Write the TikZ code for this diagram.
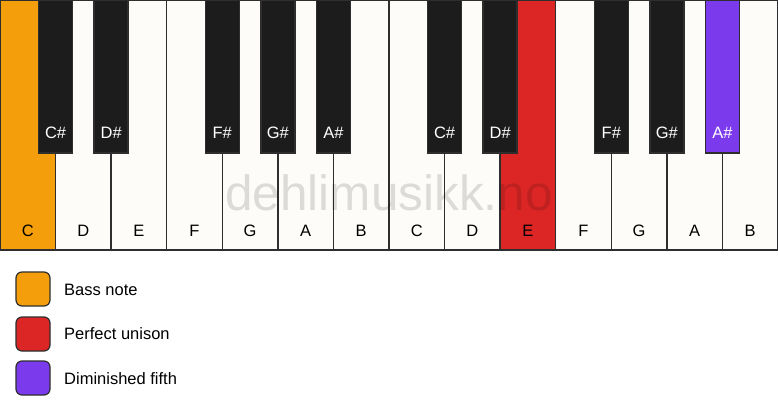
\documentclass[tikz,border=0pt]{standalone}
\usepackage{fontspec}
\setmainfont{Liberation Sans}
\definecolor{keywhite}{HTML}{FDFCF8}
\definecolor{keyblack}{HTML}{1C1C1C}
\definecolor{keyline}{HTML}{2E2E2E}
\definecolor{bassorange}{HTML}{F59E0B}
\definecolor{unisonred}{HTML}{DC2626}
\definecolor{dimpurple}{HTML}{7C3AED}
\tikzset{
  whitekey/.style={fill=keywhite,draw=keyline,line width=1.4pt},
  blackkey/.style={fill=keyblack,draw=keyline,line width=1.4pt},
  wlabel/.style={font=\fontsize{16.5}{16.5}\selectfont,text=black,inner sep=0pt},
  blabel/.style={font=\fontsize{16.5}{16.5}\selectfont,text=white,inner sep=0pt},
  legbox/.style={draw=keyline,line width=1.2pt,rounded corners=6pt,minimum size=34pt,inner sep=0pt},
  legtext/.style={font=\fontsize{16.5}{16.5}\selectfont,anchor=west,inner sep=0pt},
}
\begin{document}
\begin{tikzpicture}[x=1pt,y=-1pt]
\useasboundingbox[fill=white] (0,0) rectangle (778,417);
\def\W{55.5714}
% white keys
\foreach \i/\n/\c in {0/C/bassorange,1/D/keywhite,2/E/keywhite,3/F/keywhite,4/G/keywhite,5/A/keywhite,6/B/keywhite,7/C/keywhite,8/D/keywhite,9/E/unisonred,10/F/keywhite,11/G/keywhite,12/A/keywhite,13/B/keywhite}{
  \draw[whitekey,fill=\c] ({\i*\W},0) rectangle ({(\i+1)*\W},250);
  \node[wlabel] (w\i) at ({(\i+0.5)*\W},230.5) {\n};
}
% black keys
\foreach \i/\n/\c in {0/C\#/keyblack,1/D\#/keyblack,3/F\#/keyblack,4/G\#/keyblack,5/A\#/keyblack,7/C\#/keyblack,8/D\#/keyblack,10/F\#/keyblack,11/G\#/keyblack,12/A\#/dimpurple}{
  \draw[blackkey,fill=\c] ({(\i+1)*\W-17},0) rectangle ({(\i+1)*\W+17},153);
  \node[blabel] (b\i) at ({(\i+1)*\W},133) {\n};
}
% watermark
\node[font=\fontsize{49.5}{49.5}\selectfont,text=black,text opacity=0.13,inner sep=0pt] (wm) at (389,192.5) {dehlimusikk.no};
% legend
\node[legbox,fill=bassorange] (l1) at (33,289) {};
\node[legtext] (t1) at (64,290) {Bass note};
\node[legbox,fill=unisonred] (l2) at (33,334) {};
\node[legtext] (t2) at (64,334) {Perfect unison};
\node[legbox,fill=dimpurple] (l3) at (33,378) {};
\node[legtext] (t3) at (64,379) {Diminished fifth};
\end{tikzpicture}
\end{document}
